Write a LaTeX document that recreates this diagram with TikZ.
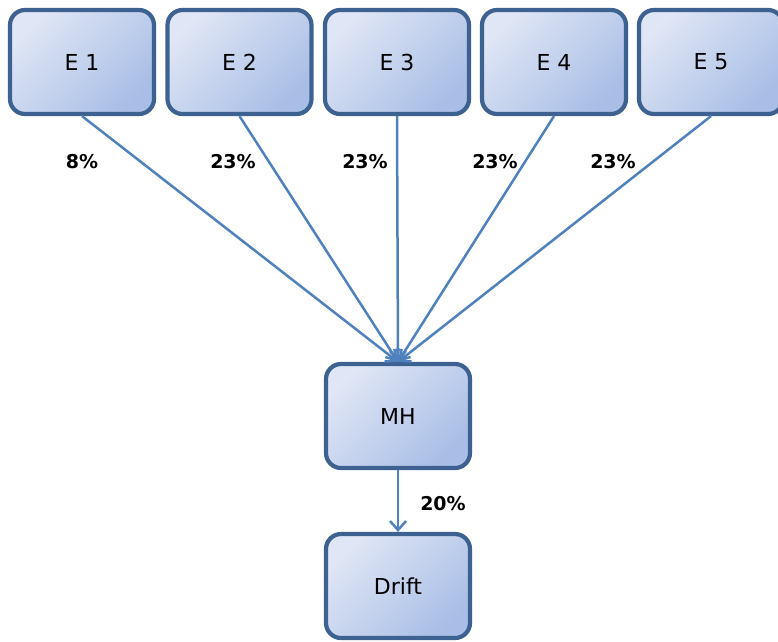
\documentclass[tikz,border=0pt]{standalone}
\usepackage{fontspec}
\setmainfont{DejaVu Sans}
\usetikzlibrary{arrows.meta}
\definecolor{boxedge}{HTML}{3D6291}
\definecolor{boxlight}{HTML}{DFE6F5}
\definecolor{boxdark}{HTML}{A9BEE6}
\definecolor{linkblue}{HTML}{4F81BD}
\tikzset{
  stagebox/.style={draw=boxedge, line width=4.2pt, rounded corners=15pt,
    top color=boxlight, bottom color=boxdark, shading angle=45,
    minimum width=144pt, minimum height=104pt, inner sep=0pt,
    font=\fontsize{22}{25}\selectfont},
  link/.style={draw=linkblue, line width=2.5pt,
    -{Straight Barb[length=9pt,width=16pt,line width=2.5pt]}},
  pct/.style={font=\bfseries\fontsize{19}{22}\selectfont, inner sep=0pt}
}
\begin{document}
\begin{tikzpicture}[x=1pt,y=-1pt]
  \useasboundingbox (0,0) rectangle (778,641);
  \clip (0,0) rectangle (778,641);
  \node[stagebox] (e1) at (82,62) {E 1};
  \node[stagebox] (e2) at (239.5,62) {E 2};
  \node[stagebox] (e3) at (397,62) {E 3};
  \node[stagebox] (e4) at (554,62) {E 4};
  \node[stagebox] (e5) at (711,62) {E 5};
  \node[stagebox] (mh) at (398,416) {MH};
  \node[stagebox] (drift) at (398,586) {Drift};
  \draw[link] (e1.south) -- (mh.north);
  \draw[link] (e2.south) -- (mh.north);
  \draw[link] (e3.south) -- (mh.north);
  \draw[link] (e4.south) -- (mh.north);
  \draw[link] (e5.south) -- (mh.north);
  \draw[link] (mh.south) -- (drift.north);
  \node[pct] (p1) at (82,162) {8\%};
  \node[pct] (p2) at (233,162) {23\%};
  \node[pct] (p3) at (365,162) {23\%};
  \node[pct] (p4) at (495,162) {23\%};
  \node[pct] (p5) at (613,162) {23\%};
  \node[pct] (p6) at (443,504) {20\%};
\end{tikzpicture}
\end{document}
